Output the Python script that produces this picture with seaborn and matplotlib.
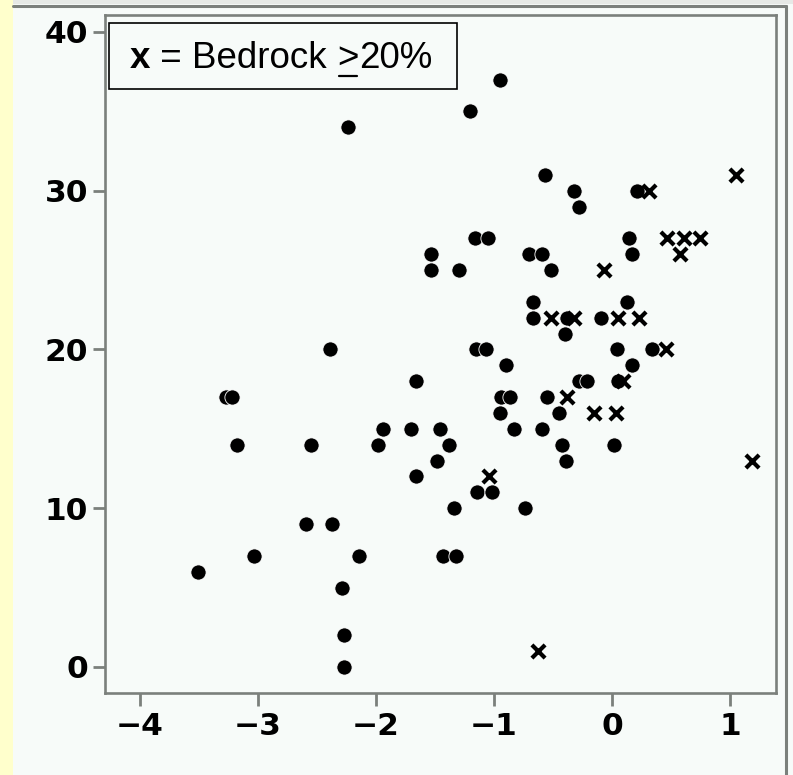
import matplotlib
matplotlib.use("Agg")
import matplotlib.pyplot as plt
import seaborn as sns
import pandas as pd
from matplotlib.patches import Rectangle
from matplotlib.lines import Line2D
from matplotlib.transforms import IdentityTransform

# Sites with bedrock cover below 20 % (filled dots)
dot_x = [-0.95, -1.20, -2.24, -0.57, -0.32, -0.28, 0.215, -1.16, -1.05, 0.146,
         -1.53, -1.53, -1.30, -0.70, -0.59, -0.52, 0.168, -0.67, 0.13, -0.67,
         -0.38, -0.40, -0.09, -2.39, -1.15, -1.07, 0.04, 0.34, -0.90, 0.17,
         -1.66, -0.28, -0.21, 0.05, -3.27, -3.22, -0.94, -0.86, -0.55, -0.95,
         -0.45, -1.94, -1.70, -1.46, -0.83, -0.59, -3.18, -2.55, -1.98, -1.38,
         -0.42, 0.02, -1.48, -0.39, -1.66, -1.14, -1.02, -1.34, -0.74, -2.59,
         -2.37, -3.03, -2.14, -1.43, -1.32, -3.51, -2.29, -2.27, -2.27]
dot_y = [37, 35, 34, 31, 30, 29, 30, 27, 27, 27,
         26, 25, 25, 26, 26, 25, 26, 23, 23, 22,
         22, 21, 22, 20, 20, 20, 20, 20, 19, 19,
         18, 18, 18, 18, 17, 17, 17, 17, 17, 16,
         16, 15, 15, 15, 15, 15, 14, 14, 14, 14,
         14, 14, 13, 13, 12, 11, 11, 10, 10, 9,
         9, 7, 7, 7, 7, 6, 5, 2, 0]

# Sites with bedrock cover of 20 % or more (crosses)
rock_x = [0.315, 1.05, 0.47, 0.61, 0.75, 0.58, -0.07, -0.52, -0.32, 0.05,
          0.23, 0.46, 0.09, -0.38, -0.15, 0.03, 1.19, -1.04, -0.63]
rock_y = [30, 31, 27, 27, 27, 26, 25, 22, 22, 22,
          22, 20, 18, 17, 16, 16, 13, 12, 1]

x_ticks = [-4, -3, -2, -1, 0, 1]
y_ticks = [0, 10, 20, 30, 40]

W, H = 793, 775
PANEL = "#F7FBF9"
YELLOW = "#FFFFCC"
FRAME = "#7B807C"

sns.set_theme(style="white")
plt.rcParams["font.family"] = ["DejaVu Sans"]
plt.rcParams["axes.unicode_minus"] = True

fig = plt.figure(figsize=(W / 100, H / 100), dpi=100, facecolor=PANEL)

# page decoration: yellow strip, top band and outer frame
idt = IdentityTransform()
fig.patches.append(Rectangle((0, 0), 13, H, transform=idt, facecolor=YELLOW,
                             edgecolor="none", zorder=0))
fig.patches.append(Rectangle((13, H - 4), W - 13, 4, transform=idt,
                             facecolor="#E6E9E6", edgecolor="none", zorder=0))
fig.lines.append(Line2D([13, 786], [H - 5.5, H - 5.5], transform=idt,
                        color=FRAME, linewidth=2.2, zorder=1))
fig.lines.append(Line2D([785.5, 785.5], [0, H - 5.5], transform=idt,
                        color=FRAME, linewidth=2.2, zorder=1))

ax = fig.add_axes([105 / W, (H - 693) / H, (776 - 105) / W, (693 - 15) / H])
ax.set_facecolor(PANEL)

sns.scatterplot(x=dot_x, y=dot_y, ax=ax, color="black", marker="o", s=120,
                edgecolor="white", linewidth=0.6, zorder=3)
sns.scatterplot(x=rock_x, y=rock_y, ax=ax, color="black", marker="x", s=90,
                linewidth=3.0, zorder=4)

ax.set_xlim(-4.296, 1.39)
ax.set_ylim(-1.64, 41.07)
ax.set_xticks(x_ticks)
ax.set_yticks(y_ticks)
ax.set_xlabel("")
ax.set_ylabel("")
ax.tick_params(direction="out", length=9, width=2, color=FRAME,
               labelsize=22.5, pad=3, labelcolor="black")
ax.tick_params(axis="x", pad=5)
ax.tick_params(axis="both", which="both", bottom=True, left=True)
for lab in ax.get_xticklabels() + ax.get_yticklabels():
    lab.set_fontweight("bold")
for sp in ax.spines.values():
    sp.set_visible(True)
    sp.set_color(FRAME)
    sp.set_linewidth(1.9)

# key box
fig.patches.append(Rectangle((109, H - 89), 457 - 109, 89 - 23, transform=idt,
                             facecolor=PANEL, edgecolor="black", linewidth=1.2,
                             zorder=5))
r = fig.canvas.get_renderer()
base = H - 68
fs = 26.5
kw = dict(transform=idt, fontsize=fs, va="baseline", ha="left",
          family="Liberation Sans", color="black", zorder=6)
cx = 130
t = fig.text(cx, base, "x", fontweight="bold", **kw)
cx += t.get_window_extent(r).width
t = fig.text(cx, base, " = Bedrock ", **kw)
cx += t.get_window_extent(r).width
t = fig.text(cx, base, ">", **kw)
bb = t.get_window_extent(r)
fig.lines.append(Line2D([cx + 2, cx + bb.width - 2], [H - 75.5, H - 75.5],
                        transform=idt, color="black", linewidth=1.6, zorder=6))
cx += bb.width
fig.text(cx, base, "20%", **kw)

fig.savefig("out.png", dpi=100, facecolor=PANEL)
